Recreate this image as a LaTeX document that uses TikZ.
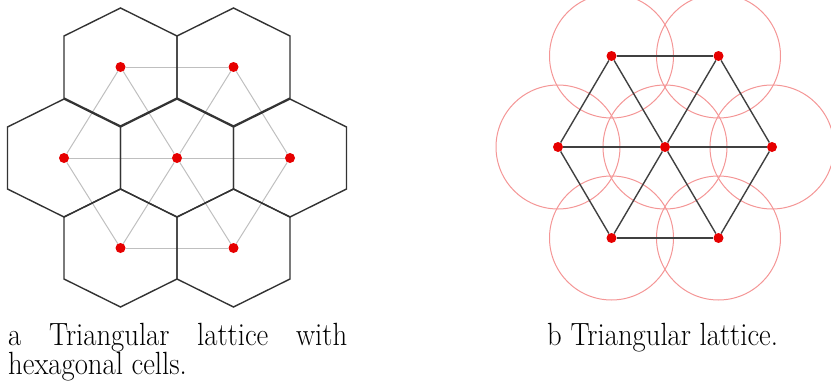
\documentclass[tikz,border=0pt]{standalone}
\usepackage{tikz}
\definecolor{sitered}{RGB}{230,0,0}
\definecolor{discred}{RGB}{244,150,150}
\begin{document}
\begin{tikzpicture}[x=1pt,y=-1pt,
        site/.style={circle,fill=sitered,inner sep=0pt,minimum size=10pt},
        cell/.style={draw=black!80,line width=1.4pt,line join=miter},
        bond/.style={draw=black!75,line width=1.4pt},
        faintbond/.style={draw=black!25,line width=1pt},
        disc/.style={draw=discred,line width=1pt},
        caption/.style={inner sep=0pt,font=\fontsize{28.7}{26.5}\selectfont,
            yscale=1.12,transform shape}]
    \useasboundingbox (0,0) rectangle (831,388);
    % a: lattice sites with hexagonal cells
    \foreach \name/\cx/\cy in {tl/120.5/67, tr/233.5/67, ml/64/158, c/177/158,
            mr/290/158, bl/120.5/248, br/233.5/248}
        \node[site] (h\name) at (\cx,\cy) {};
    \foreach \a/\b in {tl/tr, ml/c, c/mr, bl/br, tl/ml, ml/bl, tr/mr, mr/br,
            tl/c, c/br, tr/c, c/bl}
        \draw[faintbond] (h\a) -- (h\b);
    \foreach \cx/\cy in {120.5/67, 233.5/67, 64/158, 177/158, 290/158,
            120.5/248, 233.5/248}
        \draw[cell] (\cx,\cy-59) -- (\cx+56.5,\cy-31) -- (\cx+56.5,\cy+31)
            -- (\cx,\cy+59) -- (\cx-56.5,\cy+31) -- (\cx-56.5,\cy-31) -- cycle;
    % b: triangular lattice with coverage discs
    \foreach \name/\cx/\cy in {tl/611.5/56, tr/718.5/56, ml/558/147, c/665/147,
            mr/772/147, bl/611.5/238, br/718.5/238}
        \node[site] (t\name) at (\cx,\cy) {};
    \foreach \name in {tl, tr, ml, c, mr, bl, br}
        \draw[disc] (t\name) circle[radius=62];
    \foreach \a/\b in {tl/tr, ml/c, c/mr, bl/br, tl/ml, ml/bl, tr/mr, mr/br,
            tl/c, c/br, tr/c, c/bl}
        \draw[bond] (t\a) -- (t\b);
    % captions
    \node[caption,text width=339pt,align=justify,anchor=base west] (capa)
        at (8,345) {a Triangular lattice with \mbox{hexagonal} cells.};
    \node[caption,anchor=base west] (capb) at (547,345) {b Triangular lattice.};
\end{tikzpicture}
\end{document}
